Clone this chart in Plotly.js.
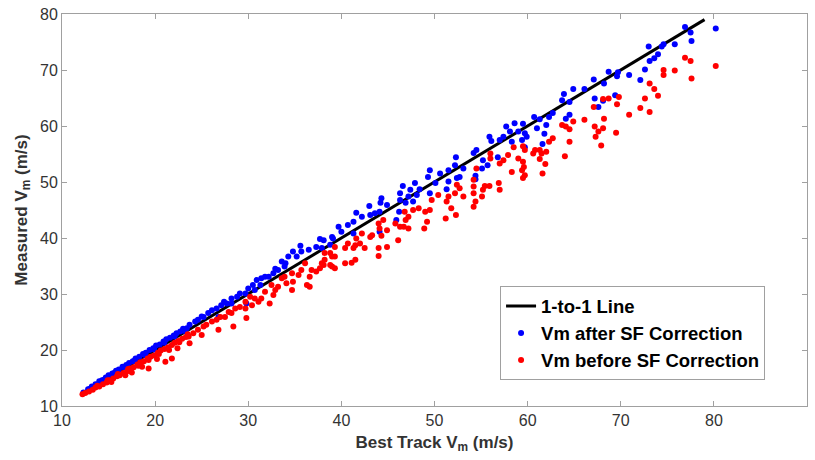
<!DOCTYPE html>
<html>
<head>
<meta charset="utf-8">
<script src="https://cdn.plot.ly/plotly-3.0.1.min.js"></script>
<style>html,body{margin:0;padding:0;background:#fff;}#chart{width:815px;height:460px;}</style>
</head>
<body>
<div id="chart"></div>
<script>
// 1-to-1 reference line endpoints (data values)
const lineX = [12, 79];
const lineY = [12, 79];

// Vm after SF correction (blue)
const afterX = [
12.3,12.8,13.2,13.6,14.0,14.3,14.7,15.0,15.4,15.8,16.1,16.5,16.9,17.2,17.6,17.9,18.3,18.7,19.0,19.4,19.8,20.1,20.5,20.9,21.2,21.6,22.0,22.3,22.7,23.0,
13.0,14.5,15.6,16.7,17.8,18.9,19.9,21.0,22.1,23.2,
37.3,35.6,35.7,34.8,35.2,34.3,33.6,33.9,33.2,32.7,32.2,31.8,31.4,30.9,31.3,30.5,30.7,29.7,29.1,28.8,28.2,28.2,27.7,27.1,26.6,26.1,25.7,25.2,24.6,24.3,23.7,23.4,29.8,26.8,36.5,34.0,32.9,30.0,27.4,25.0,
39.0,37.7,37.9,52.3,52.2,51.5,50.6,49.5,49.3,52.4,51.5,50.1,51.3,47.9,46.6,48.4,47.4,49.5,48.1,47.2,46.3,46.3,47.7,46.9,44.3,44.2,44.9,43.0,44.1,43.6,43.1,41.6,42.2,41.3,40.7,39.7,40.0,41.3,39.1,38.1,38.8,44.1,45.9,46.2,
52.7,53.1,54.4,54.4,55.1,55.7,55.2,54.2,54.5,56.8,55.9,56.1,57.0,57.4,58.3,57.7,58.1,59.0,58.6,59.5,59.7,59.4,59.9,59.7,60.7,61.3,61.0,
80.2,76.9,77.5,77.6,75.8,74.6,74.4,73.0,74.0,73.6,73.1,72.6,72.1,70.9,69.7,68.7,69.6,67.1,68.2,67.2,68.1,67.6,69.4,66.1,64.9,63.9,63.7,64.5,64.5,64.1,62.7,62.3,62.0,61.8,61.6
];
const afterY = [
12.4,13.0,13.5,13.9,14.4,14.6,15.1,15.5,15.8,16.3,16.5,17.0,17.3,17.7,18.0,18.5,18.8,19.3,19.5,20.0,20.3,20.8,21.0,21.5,21.9,22.2,22.6,23.0,23.3,23.8,
13.1,14.7,15.9,16.9,18.1,19.1,20.1,21.3,22.4,23.4,
38.4,38.6,37.6,37.6,36.7,36.7,35.8,34.9,34.3,33.7,33.1,33.1,32.8,32.5,31.6,31.6,30.7,30.1,30.1,29.5,29.2,28.3,28.3,28.0,27.4,27.1,26.6,25.9,25.4,25.1,24.5,23.9,28.3,25.9,37.9,35.5,34.5,31.0,28.6,26.0,
40.2,39.8,38.2,54.4,53.0,52.1,51.5,52.1,50.9,50.7,50.1,49.8,48.7,49.8,49.3,48.7,48.6,48.0,47.7,47.4,48.0,46.8,46.5,46.3,47.1,46.3,45.9,45.7,44.7,44.4,44.1,44.5,43.8,42.9,42.3,42.0,41.1,40.8,39.9,39.6,38.8,41.1,43.2,44.7,
50.9,52.4,51.1,50.5,52.4,53.0,53.9,55.2,55.7,54.4,58.1,57.3,57.5,58.1,57.2,59.9,59.0,59.0,60.5,60.4,58.7,57.5,58.1,56.2,61.6,61.2,59.6,
77.4,77.7,76.7,75.2,74.6,74.6,74.2,74.2,72.8,72.1,71.6,70.1,68.2,69.1,69.6,69.7,68.9,68.3,67.6,64.9,64.5,63.4,65.5,66.6,66.6,65.7,64.6,64.3,62.0,61.3,62.3,61.6,60.2,58.6,56.8
];

// Vm before SF correction (red)
const beforeX = [
12.2,12.5,12.9,13.3,13.6,14.0,14.4,14.8,15.1,15.5,15.9,16.2,16.6,17.0,17.3,17.7,18.1,18.4,18.8,19.2,19.5,19.9,20.3,20.6,21.0,21.4,21.8,22.1,22.5,22.9,23.3,
13.8,14.9,16.0,17.1,18.2,19.3,20.4,21.5,22.6,23.5,16.8,18.6,19.3,21.1,21.8,20.2,22.4,23.7,17.5,15.3,
37.3,36.8,36.6,36.3,36.6,36.1,35.7,35.4,34.7,34.8,34.1,34.7,33.9,33.6,33.2,32.9,32.5,32.7,32.3,31.8,31.4,31.1,30.7,30.2,30.4,29.7,29.7,29.8,29.1,28.6,28.2,27.9,27.5,28.4,27.0,26.6,26.1,26.8,25.5,25.2,24.6,25.0,24.1,23.6,37.7,
39.0,38.2,38.8,37.9,52.4,52.2,51.5,51.3,50.4,49.7,49.5,49.0,48.3,47.7,49.2,48.9,46.8,47.2,46.9,46.7,47.2,46.3,45.8,46.1,44.9,44.5,44.0,44.1,44.3,44.9,44.0,44.0,43.3,43.1,42.2,41.6,42.0,41.5,41.3,42.5,40.7,40.4,39.3,38.8,39.3,38.2,38.1,39.0,39.3,40.4,41.1,41.5,51.2,52.3,51.8,
53.1,52.7,54.2,54.2,54.2,54.4,54.2,55.1,55.2,55.4,55.9,56.9,57.0,54.5,56.0,56.0,57.0,57.4,57.9,58.3,58.5,59.5,59.7,59.0,59.5,59.6,59.4,59.7,59.5,60.8,60.6,61.3,61.3,
80.2,76.9,77.5,77.6,75.8,74.6,74.6,73.1,73.6,74.0,72.6,73.1,72.1,70.9,69.8,69.6,69.5,68.7,68.1,67.1,68.2,68.1,67.2,67.6,67.3,67.9,66.1,64.9,63.7,64.1,64.5,64.5,64.0,62.7,62.3,62.0,61.5,61.9,61.6
];
const beforeY = [
12.1,12.3,12.6,12.9,13.3,13.5,13.9,14.2,14.6,14.9,15.3,15.5,15.9,16.2,16.7,16.9,17.4,17.8,18.0,18.5,18.8,19.0,19.5,19.9,20.2,20.5,20.9,21.3,21.6,22.0,22.3,
13.6,14.6,15.7,16.6,17.2,18.2,19.3,20.0,21.4,22.8,15.5,17.0,16.7,17.9,18.5,18.4,20.3,21.2,16.0,14.3,
34.0,34.3,33.1,31.6,31.3,35.5,34.3,33.4,33.7,32.2,31.9,30.7,33.1,32.8,31.3,30.7,31.6,29.8,28.3,30.4,29.2,28.6,29.2,29.5,28.0,28.6,27.4,25.7,27.7,27.4,26.6,26.8,25.9,24.2,25.9,25.4,25.1,23.6,24.5,24.2,23.6,22.7,23.0,22.4,34.6,
36.7,37.3,35.2,35.5,49.5,48.0,47.4,46.5,47.7,46.8,45.0,44.7,45.3,45.0,42.9,41.7,44.7,43.8,43.2,42.0,41.7,42.0,42.6,39.6,41.4,43.2,42.6,41.7,40.4,38.4,38.2,36.8,40.5,40.2,40.8,39.9,39.0,38.7,38.2,38.2,39.0,38.2,38.4,37.3,36.7,36.1,35.2,34.9,34.6,35.5,35.6,36.1,43.5,44.1,45.3,
47.4,48.9,49.2,50.4,48.0,46.5,45.6,47.4,48.6,49.3,49.3,49.8,48.6,52.4,54.2,55.1,53.3,53.9,54.8,51.8,56.2,56.4,55.7,54.2,53.6,52.7,52.1,51.2,50.7,55.7,55.1,55.7,54.1,
70.7,72.2,71.6,68.5,69.9,70.0,69.1,67.6,66.6,65.4,64.9,62.5,63.2,62.0,65.2,63.9,58.8,64.9,64.8,63.4,61.3,59.6,59.9,59.0,58.1,56.5,61.1,60.8,60.2,59.9,59.4,57.2,54.6,57.8,57.2,55.4,55.1,53.2,51.5
];

const xTicks = [10,20,30,40,50,60,70,80,90];
const yTicks = [10,20,30,40,50,60,70,80];

const FONT = 'Liberation Sans, Arial, Helvetica, sans-serif';

const traces = [
  {x: lineX, y: lineY, mode: 'lines', name: '1-to-1 Line', line: {color: '#000', width: 3}},
  {x: afterX, y: afterY, mode: 'markers', name: 'Vm after SF Correction', marker: {color: '#0000ff', size: 6}},
  {x: beforeX, y: beforeY, mode: 'markers', name: 'Vm before SF Correction', marker: {color: '#ff0000', size: 6}}
];

const axisCommon = {
  showgrid: false, zeroline: false, showline: true, linecolor: '#a0a0a0', linewidth: 1,
  mirror: 'ticks', ticks: 'inside', ticklen: 5, tickcolor: '#a0a0a0',
  tickfont: {family: FONT, size: 16, color: '#333'}
};

const layout = {
  width: 815, height: 460,
  margin: {l: 62, r: 8, t: 14, b: 54},
  paper_bgcolor: '#fff', plot_bgcolor: '#fff',
  showlegend: true,
  xaxis: Object.assign({}, axisCommon, {
    range: [10, 90], tickvals: xTicks, ticktext: xTicks.map(String),
    title: {text: '<b>Best Track V<sub>m</sub> (m/s)</b>', font: {family: FONT, size: 17, color: '#333'}, standoff: 7}
  }),
  yaxis: Object.assign({}, axisCommon, {
    range: [10, 80], tickvals: yTicks, ticktext: yTicks.map(String),
    title: {text: '<b>Measured V<sub>m</sub> (m/s)</b>', font: {family: FONT, size: 17, color: '#333'}, standoff: 8}
  }),
  legend: {
    x: 0.588, y: 0.305, xanchor: 'left', yanchor: 'top',
    bgcolor: '#fff', bordercolor: '#a0a0a0', borderwidth: 1,
    font: {family: FONT, size: 18.5, color: '#000', weight: 'bold'},
    itemwidth: 30, tracegroupgap: 0
  }
};

Plotly.newPlot('chart', traces, layout, {displayModeBar: false, staticPlot: true});
</script>
</body>
</html>
